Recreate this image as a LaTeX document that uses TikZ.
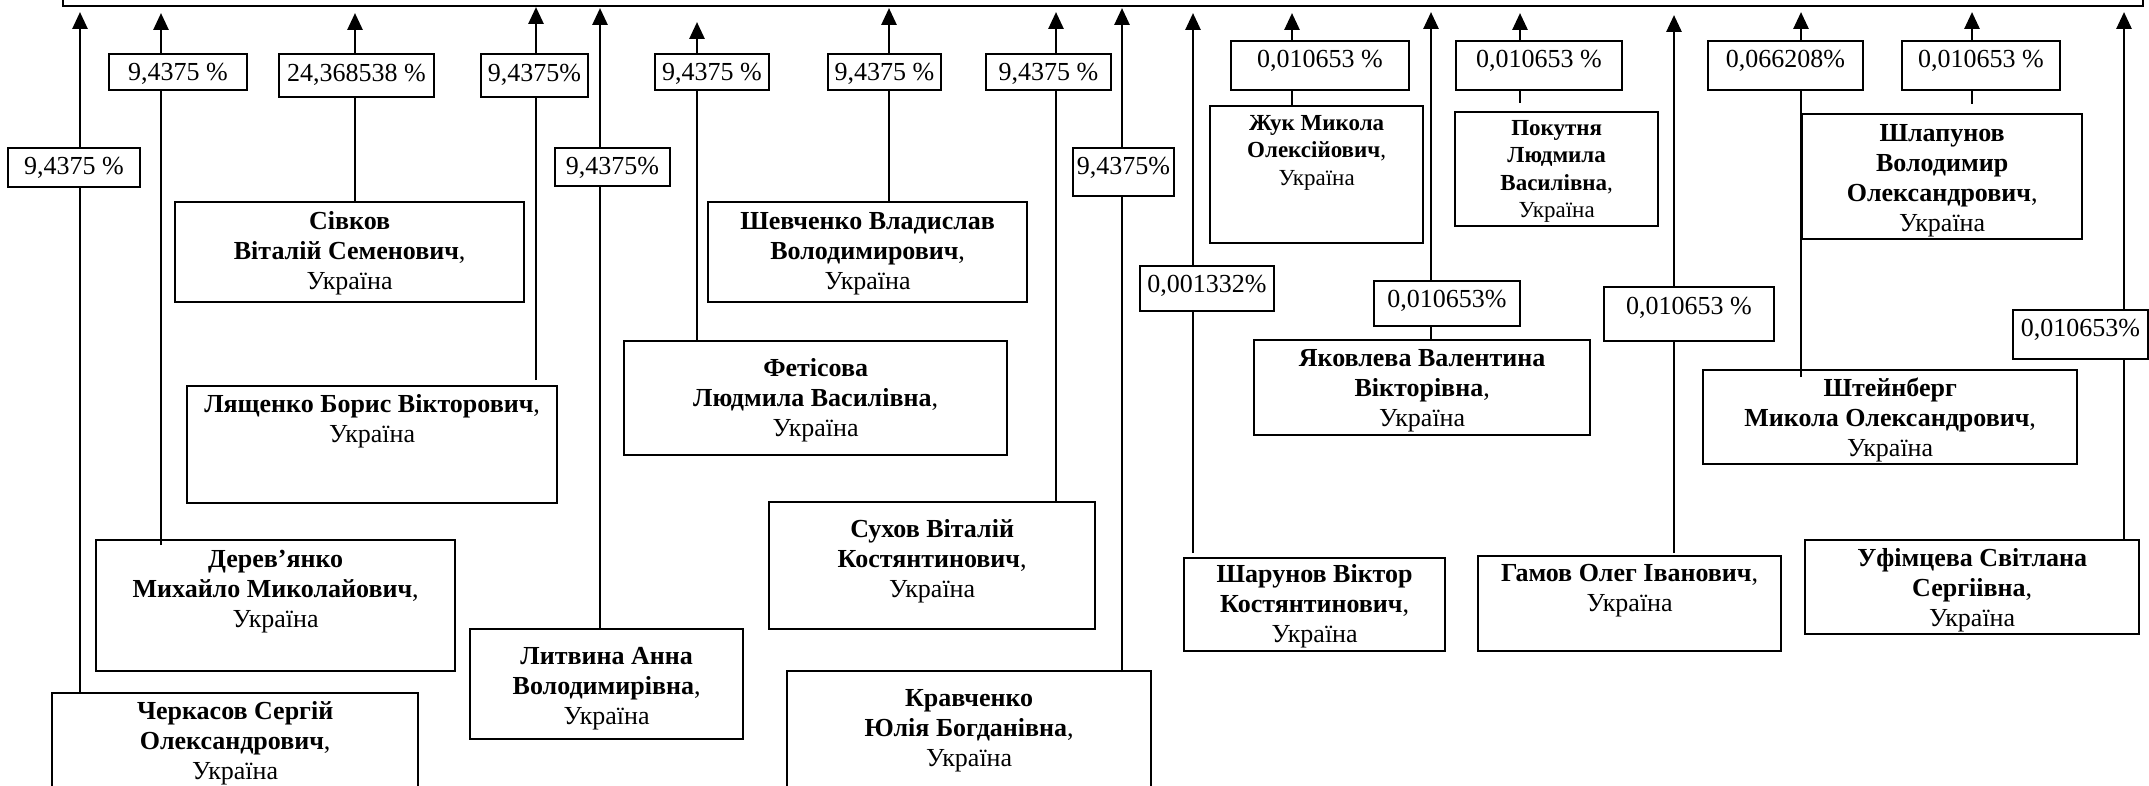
\documentclass[tikz,border=0pt]{standalone}
\usepackage{fontspec}
\setmainfont{Liberation Serif}
\usetikzlibrary{arrows.meta,calc}
\begin{document}
\begin{tikzpicture}[x=1pt,y=-1pt,
  namebox/.style={draw,line width=2.3pt,inner sep=0pt,anchor=north west},
  nametext/.style={align=center,inner sep=0pt,anchor=north,font=\fontsize{26}{30}\selectfont},
  smalltext/.style={align=center,inner sep=0pt,anchor=north,font=\fontsize{23}{27.5}\selectfont},
  pctbox/.style={draw,fill=white,line width=2.3pt,inner sep=0pt},
  pcttext/.style={inner sep=0pt,anchor=base,font=\fontsize{26}{30}\selectfont},
  conn/.style={line width=2.8pt},
  arr/.style={line width=2.8pt,-{Triangle[width=15pt,length=17pt]}}]
\clip (0,0) rectangle (2149,786);
\fill[white] (0,0) rectangle (2149,786);
% top box
\node[namebox,minimum width=2080pt,minimum height=60pt,anchor=south west] (top) at (62,7) {};
% arrow tips
\coordinate (t1) at (80,12);
\coordinate (t2) at (161,13);
\coordinate (t3) at (355,13);
\coordinate (t4) at (536,7);
\coordinate (t5) at (600,8);
\coordinate (t6) at (697,22);
\coordinate (t7) at (889,8);
\coordinate (t8) at (1056,12);
\coordinate (t9) at (1122,8);
\coordinate (t10) at (1193,13);
\coordinate (t11) at (1292,13);
\coordinate (t12) at (1431,12);
\coordinate (t13) at (1520,13);
\coordinate (t14) at (1674,15);
\coordinate (t15) at (1801,12);
\coordinate (t16) at (1972,12);
\coordinate (t17) at (2124,12);
% name boxes
\node[namebox,minimum width=366pt,minimum height=140pt] (b1) at (51,692) {};
\node[nametext] (b1t) at ($(b1.north)+(0,6)$) {\strut\textbf{Черкасов Сергій}\\\textbf{Олександрович},\\Україна};
\node[namebox,minimum width=359pt,minimum height=131pt] (b2) at (95,539) {};
\node[nametext] (b2t) at ($(b2.north)+(0,7)$) {\strut\textbf{Дерев’янко}\\\textbf{Михайло Миколайович},\\Україна};
\node[namebox,minimum width=349pt,minimum height=100pt] (b3) at (174,201) {};
\node[nametext] (b3t) at ($(b3.north)+(0,7)$) {\strut\textbf{Сівков}\\\textbf{Віталій Семенович},\\Україна};
\node[namebox,minimum width=370pt,minimum height=117pt] (b4) at (186,385) {};
\node[nametext] (b4t) at ($(b4.north)+(0,6)$) {\strut\textbf{Лященко Борис Вікторович},\\Україна};
\node[namebox,minimum width=273pt,minimum height=110pt] (b5) at (469,628) {};
\node[nametext] (b5t) at ($(b5.north)+(0,15)$) {\strut\textbf{Литвина Анна}\\\textbf{Володимирівна},\\Україна};
\node[namebox,minimum width=383pt,minimum height=114pt] (b6) at (623,340) {};
\node[nametext] (b6t) at ($(b6.north)+(0,15)$) {\strut\textbf{Фетісова}\\\textbf{Людмила Василівна},\\Україна};
\node[namebox,minimum width=319pt,minimum height=100pt] (b7) at (707,201) {};
\node[nametext] (b7t) at ($(b7.north)+(0,7)$) {\strut\textbf{Шевченко Владислав}\\\textbf{Володимирович},\\Україна};
\node[namebox,minimum width=326pt,minimum height=127pt] (b8) at (768,501) {};
\node[nametext] (b8t) at ($(b8.north)+(0,15)$) {\strut\textbf{Сухов Віталій}\\\textbf{Костянтинович},\\Україна};
\node[namebox,minimum width=364pt,minimum height=140pt] (b9) at (786,670) {};
\node[nametext] (b9t) at ($(b9.north)+(0,15)$) {\strut\textbf{Кравченко}\\\textbf{Юлія Богданівна},\\Україна};
\node[namebox,minimum width=261pt,minimum height=93pt] (b10) at (1183,557) {};
\node[nametext] (b10t) at ($(b10.north)+(0,4)$) {\strut\textbf{Шарунов Віктор}\\\textbf{Костянтинович},\\Україна};
\node[namebox,minimum width=213pt,minimum height=137pt] (b11) at (1209,105) {};
\node[smalltext] (b11t) at ($(b11.north)+(0,6)$) {\strut\textbf{Жук Микола}\\\textbf{Олексійович},\\Україна};
\node[namebox,minimum width=336pt,minimum height=95pt] (b12) at (1253,339) {};
\node[nametext] (b12t) at ($(b12.north)+(0,6)$) {\strut\textbf{Яковлева Валентина}\\\textbf{Вікторівна},\\Україна};
\node[namebox,minimum width=203pt,minimum height=114pt] (b13) at (1454,111) {};
\node[smalltext] (b13t) at ($(b13.north)+(0,5)$) {\strut\textbf{Покутня}\\\textbf{Людмила}\\\textbf{Василівна},\\Україна};
\node[namebox,minimum width=303pt,minimum height=95pt] (b14) at (1477,555) {};
\node[nametext] (b14t) at ($(b14.north)+(0,5)$) {\strut\textbf{Гамов Олег Іванович},\\Україна};
\node[namebox,minimum width=374pt,minimum height=94pt] (b15) at (1702,369) {};
\node[nametext] (b15t) at ($(b15.north)+(0,6)$) {\strut\textbf{Штейнберг}\\\textbf{Микола Олександрович},\\Україна};
\node[namebox,minimum width=280pt,minimum height=125pt] (b16) at (1801,113) {};
\node[nametext] (b16t) at ($(b16.north)+(0,7)$) {\strut\textbf{Шлапунов}\\\textbf{Володимир}\\\textbf{Олександрович},\\Україна};
\node[namebox,minimum width=334pt,minimum height=94pt] (b17) at (1804,539) {};
\node[nametext] (b17t) at ($(b17.north)+(0,6)$) {\strut\textbf{Уфімцева Світлана}\\\textbf{Сергіівна},\\Україна};
% connectors
\draw[arr] (t1 |- b1.north) -- (t1);
\draw[arr] ($(t2 |- b2.north)+(0,6)$) -- (t2);
\draw[arr] (t3 |- b3.north) -- (t3);
\draw[arr] ($(t4 |- b4.north)+(0,-5)$) -- (t4);
\draw[arr] (t5 |- b5.north) -- (t5);
\draw[arr] (t6 |- b6.north) -- (t6);
\draw[arr] (t7 |- b7.north) -- (t7);
\draw[arr] (t8 |- b8.north) -- (t8);
\draw[arr] ($(t9 |- b9.north)+(0,2)$) -- (t9);
\draw[arr] ($(t10 |- b10.north)+(0,-4)$) -- (t10);
\draw[arr] (t11 |- b11.north) -- (t11);
\draw[arr] (t12 |- b12.north) -- (t12);
\draw[arr] ($(t13 |- b13.north)+(0,-8)$) -- (t13);
\draw[arr] ($(t14 |- b14.north)+(0,-2)$) -- (t14);
\draw[arr] ($(t15 |- b15.north)+(0,8)$) -- (t15);
\draw[arr] ($(t16 |- b16.north)+(0,-9)$) -- (t16);
\draw[arr] (t17 |- b17.north) -- (t17);
% percentage labels
\node[pctbox,minimum width=132pt,minimum height=39pt] (l1) at (74,167.5) {};
\node[pcttext] (l1t) at ($(l1.north)+(0,28)$) {9,4375 \%};
\node[pctbox,minimum width=138pt,minimum height=36pt] (l2) at (178,72) {};
\node[pcttext] (l2t) at ($(l2.north)+(0,28)$) {9,4375 \%};
\node[pctbox,minimum width=155pt,minimum height=43pt] (l3) at (356.5,75.5) {};
\node[pcttext] (l3t) at ($(l3.north)+(0,29)$) {24,368538 \%};
\node[pctbox,minimum width=107pt,minimum height=43pt] (l4) at (534.5,75.5) {};
\node[pcttext] (l4t) at ($(l4.north)+(0,29)$) {9,4375\%};
\node[pctbox,minimum width=115pt,minimum height=38pt] (l5) at (612.5,167) {};
\node[pcttext] (l5t) at ($(l5.north)+(0,28)$) {9,4375\%};
\node[pctbox,minimum width=114pt,minimum height=36pt] (l6) at (712,72) {};
\node[pcttext] (l6t) at ($(l6.north)+(0,28)$) {9,4375 \%};
\node[pctbox,minimum width=113pt,minimum height=36pt] (l7) at (884.5,72) {};
\node[pcttext] (l7t) at ($(l7.north)+(0,28)$) {9,4375 \%};
\node[pctbox,minimum width=125pt,minimum height=36pt] (l8) at (1048.5,72) {};
\node[pcttext] (l8t) at ($(l8.north)+(0,28)$) {9,4375 \%};
\node[pctbox,minimum width=101pt,minimum height=48pt] (l9) at (1123.5,172) {};
\node[pcttext] (l9t) at ($(l9.north)+(0,28)$) {9,4375\%};
\node[pctbox,minimum width=134pt,minimum height=45pt] (l10) at (1207,288.5) {};
\node[pcttext] (l10t) at ($(l10.north)+(0,28)$) {0,001332\%};
\node[pctbox,minimum width=178pt,minimum height=49pt] (l11) at (1320,65.5) {};
\node[pcttext] (l11t) at ($(l11.north)+(0,28)$) {0,010653 \%};
\node[pctbox,minimum width=146pt,minimum height=45pt] (l12) at (1447,303.5) {};
\node[pcttext] (l12t) at ($(l12.north)+(0,28)$) {0,010653\%};
\node[pctbox,minimum width=166pt,minimum height=49pt] (l13) at (1539,65.5) {};
\node[pcttext] (l13t) at ($(l13.north)+(0,28)$) {0,010653 \%};
\node[pctbox,minimum width=170pt,minimum height=54pt] (l14) at (1689,314) {};
\node[pcttext] (l14t) at ($(l14.north)+(0,29)$) {0,010653 \%};
\node[pctbox,minimum width=155pt,minimum height=49pt] (l15) at (1785.5,65.5) {};
\node[pcttext] (l15t) at ($(l15.north)+(0,28)$) {0,066208\%};
\node[pctbox,minimum width=158pt,minimum height=49pt] (l16) at (1981,65.5) {};
\node[pcttext] (l16t) at ($(l16.north)+(0,28)$) {0,010653 \%};
\node[pctbox,minimum width=135pt,minimum height=49pt] (l17) at (2080.5,334.5) {};
\node[pcttext] (l17t) at ($(l17.north)+(0,28)$) {0,010653\%};
\end{tikzpicture}
\end{document}
